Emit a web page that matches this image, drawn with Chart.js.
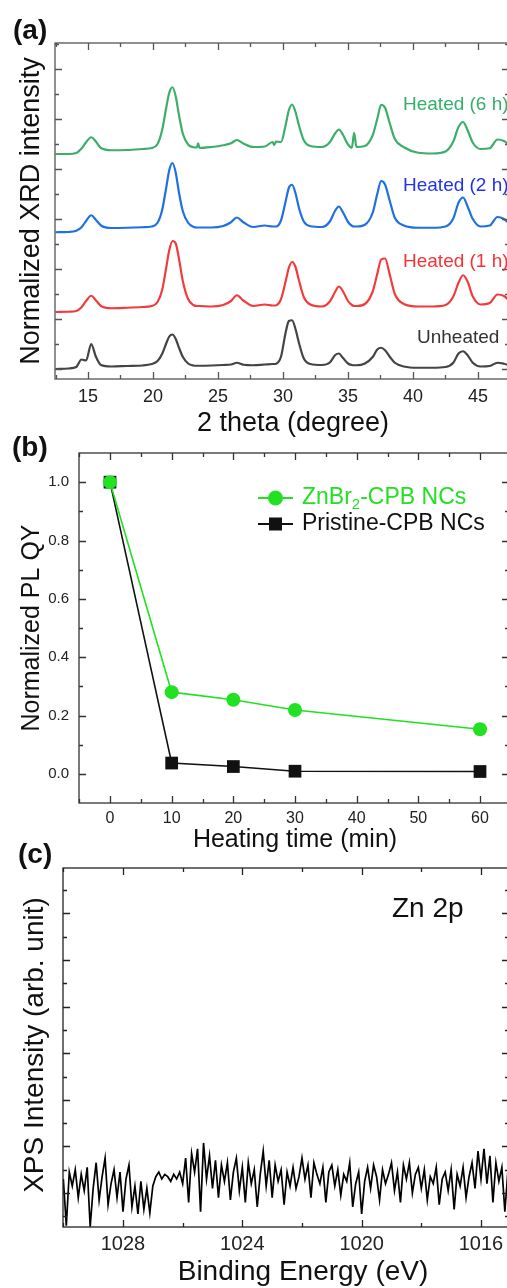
<!DOCTYPE html>
<html><head><meta charset="utf-8">
<script src="https://cdn.jsdelivr.net/npm/chart.js@4.4.1/dist/chart.umd.min.js"></script>
<style>
html,body{margin:0;padding:0;background:#fff;overflow:hidden;width:507px;height:1288px;}
canvas{position:absolute;left:0;top:0;}
</style></head><body>
<canvas id="ca" width="512" height="1288"></canvas>
<canvas id="cb" width="512" height="1288"></canvas>
<canvas id="cc" width="512" height="1288"></canvas>
<script>
// ---------- Panel (a): XRD ----------
const XRD_THETA = [12.5,13.5,14.1,14.5,14.85,15.25,15.6,16.0,16.8,18.0,
  19.2,19.9,20.35,20.7,21.0,21.25,21.5,21.75,22.0,22.3,
  22.7,23.1,23.38,23.47,23.58,24.5,25.4,26.0,26.45,26.95,
  27.7,28.6,29.2,29.33,29.47,29.85,30.2,30.45,30.7,30.95,
  31.25,31.6,32.1,33.0,33.6,34.0,34.3,34.6,35.0,35.3,
  35.47,35.65,36.3,36.9,37.25,37.55,37.85,38.2,38.6,39.3,
  40.4,41.5,42.5,43.1,43.5,43.85,44.2,44.6,45.2,45.9,
  46.5,47.0,47.4];
const XRD_UNHEATED = [0.0,0.02,0.08,0.38,0.34,1.0,0.5,0.16,0.1,0.12,
  0.14,0.2,0.32,0.6,1.0,1.3,1.38,1.2,0.85,0.48,
  0.22,0.14,0.13,0.13,0.13,0.14,0.16,0.18,0.25,0.17,
  0.15,0.18,0.2,0.2,0.21,0.5,1.45,1.92,1.95,1.62,
  1.0,0.42,0.2,0.16,0.26,0.55,0.62,0.45,0.22,0.16,
  0.15,0.15,0.22,0.48,0.78,0.85,0.75,0.5,0.25,0.1,
  0.05,0.05,0.08,0.25,0.62,0.71,0.55,0.25,0.1,0.12,
  0.25,0.21,0.15];
const XRD_HEATED_1H = [2.28,2.29,2.32,2.47,2.72,2.93,2.75,2.52,2.43,2.45,
  2.48,2.52,2.68,3.15,4.0,4.75,5.12,5.02,4.4,3.5,
  2.8,2.56,2.52,2.52,2.52,2.5,2.56,2.72,2.95,2.74,
  2.52,2.58,2.54,2.54,2.55,2.8,3.5,4.05,4.28,4.1,
  3.5,2.88,2.58,2.5,2.7,3.08,3.3,3.12,2.72,2.56,
  2.52,2.52,2.6,3.1,3.8,4.38,4.42,3.8,3.0,2.6,
  2.5,2.5,2.56,2.9,3.45,3.75,3.5,2.9,2.58,2.64,
  2.98,2.92,2.74];
const XRD_HEATED_2H = [5.47,5.48,5.53,5.67,5.92,6.15,5.97,5.74,5.64,5.65,
  5.67,5.7,5.85,6.35,7.2,7.95,8.24,7.85,7.05,6.3,
  5.85,5.69,5.66,5.66,5.66,5.66,5.72,5.87,6.06,5.87,
  5.68,5.74,5.7,5.7,5.7,5.95,6.7,7.25,7.37,7.05,
  6.4,5.9,5.71,5.68,5.9,6.32,6.5,6.28,5.88,5.73,
  5.7,5.7,5.77,6.25,7.0,7.52,7.38,6.75,6.05,5.74,
  5.65,5.65,5.7,6.02,6.65,6.86,6.5,6.0,5.7,5.74,
  6.08,6.0,5.82];
const XRD_HEATED_6H = [8.6,8.6,8.64,8.82,9.07,9.27,9.1,8.84,8.75,8.76,
  8.8,8.84,9.0,9.55,10.4,11.05,11.27,10.9,10.15,9.4,
  8.98,8.87,8.86,9.03,8.84,8.88,8.95,9.03,9.16,9.02,
  8.88,8.9,9.08,8.96,9.1,9.08,9.75,10.35,10.58,10.3,
  9.7,9.15,8.92,8.88,9.07,9.42,9.58,9.38,8.98,8.85,
  9.45,8.88,8.92,9.35,10.0,10.57,10.45,9.85,9.2,8.87,
  8.65,8.62,8.7,9.1,9.68,9.88,9.55,9.05,8.8,8.83,
  9.18,9.12,8.96];
const XRD_SERIES_NAMES = ['Unheated','Heated (1 h)','Heated (2 h)','Heated (6 h)'];
const XRD_X_MAJOR = [15,20,25,30,35,40,45];
const XRD_X_MINOR = [12.5,17.5,22.5,27.5,32.5,37.5,42.5,47.5];
const XRD_Y_MAJOR = [0,2,4,6,8,10,12];
const XRD_Y_MINOR = [1,3,5,7,9,11,13];

// ---------- Panel (b): PL QY ----------
const PL_TIME = [0,10,20,30,60];
const PL_ZNBR2 = [1.0,0.28,0.254,0.219,0.153];
const PL_PRISTINE = [1.0,0.037,0.025,0.009,0.008];
const PL_X_MAJOR = [0,10,20,30,40,50,60];
const PL_X_MINOR = [-5,5,15,25,35,45,55];
const PL_Y_MAJOR = [0,0.2,0.4,0.6,0.8,1.0];
const PL_Y_MINOR = [-0.1,0.1,0.3,0.5,0.7,0.9,1.1];

// ---------- Panel (c): XPS Zn 2p ----------
const XPS_START_EV = 1030.0;
const XPS_STEP_EV = 0.1;
const XPS_COUNTS = [0.6,-1.4,0.9,0.3,1.0,-0.2,0.8,0.1,1.1,-1.45,
  0.2,1.3,-0.3,0.7,1.5,-0.5,0.4,1.0,-0.2,0.9,
  -0.8,0.6,1.2,-0.6,0.3,-0.9,0.5,-0.7,0.2,-0.85,
  0.3,0.7,0.9,0.6,0.8,0.7,0.5,0.8,0.6,0.9,
  0.4,1.5,-0.4,1.7,0.9,1.9,-0.8,2.15,0.6,1.6,
  0.2,1.4,-0.2,1.2,0.5,1.3,-0.3,0.9,1.5,0.1,
  1.1,-0.4,1.3,0.4,1.0,-0.6,0.8,1.8,0.3,1.4,
  -0.2,1.2,0.5,1.0,-0.5,0.9,0.3,1.1,0.2,0.7,
  1.5,0.6,1.2,-0.2,1.3,0.8,0.4,1.1,-0.4,0.9,
  1.2,0.3,1.0,-0.1,0.8,0.5,1.3,-0.6,0.4,0.9,
  -0.9,0.5,1.1,0.2,1.2,0.7,-0.3,1.0,0.4,0.8,
  1.3,0.1,0.9,-0.4,1.2,0.6,1.3,0.0,0.8,1.1,
  0.2,1.0,-0.3,0.7,0.4,1.1,-0.5,0.6,0.9,0.1,
  1.0,-0.7,0.8,0.3,1.1,-0.2,0.7,1.3,0.2,1.8,
  0.6,1.9,0.4,1.6,-0.4,1.3,0.5,1.1,-0.8,0.9];
const XPS_X_MAJOR = [1016,1020,1024,1028];
const XPS_X_MINOR = [1018,1022,1026,1030];
const XPS_Y_MAJOR = [0,2,4,6,8,10,12];
const XPS_Y_MINOR = [-1,1,3,5,7,9,11,13];

// ---------- helpers ----------
const FONT = "'Liberation Sans', Arial, Helvetica, sans-serif";
Chart.defaults.font.family = FONT;

function framePlugin(cfg) {
  return {
    id: 'frame_' + cfg.name,
    afterDatasetsDraw(chart) {
      const {ctx, chartArea: a, scales: {x, y}} = chart;
      ctx.save();
      ctx.strokeStyle = cfg.color; ctx.lineWidth = cfg.width;
      ctx.strokeRect(a.left, a.top, a.right - a.left, a.bottom - a.top);
      const xl = Math.min(x.min, x.max), xh = Math.max(x.min, x.max);
      const yl = Math.min(y.min, y.max), yh = Math.max(y.min, y.max);
      ctx.beginPath();
      const tx = (vals, len) => vals.filter(v => v > xl && v < xh).forEach(v => {
        const p = Math.round(x.getPixelForValue(v)) + 0.5;
        ctx.moveTo(p, a.bottom); ctx.lineTo(p, a.bottom - len);
        ctx.moveTo(p, a.top); ctx.lineTo(p, a.top + len);
      });
      const ty = (vals, len) => vals.filter(v => v > yl && v < yh).forEach(v => {
        const p = Math.round(y.getPixelForValue(v)) + 0.5;
        ctx.moveTo(a.left, p); ctx.lineTo(a.left + len, p);
        ctx.moveTo(a.right, p); ctx.lineTo(a.right - len, p);
      });
      tx(cfg.xMajor, 7); tx(cfg.xMinor, 4);
      ty(cfg.yMajor, 7); ty(cfg.yMinor, 4);
      ctx.stroke();
      ctx.restore();
    }
  };
}
function textPlugin(name, items) {
  return {
    id: 'text_' + name,
    afterDraw(chart) {
      const ctx = chart.ctx;
      items.forEach(it => {
        ctx.save();
        ctx.font = it.font + ' ' + FONT;
        ctx.fillStyle = it.color || '#111';
        ctx.textAlign = it.align || 'left';
        ctx.textBaseline = it.base || 'middle';
        ctx.translate(it.x, it.y);
        if (it.rot) ctx.rotate(it.rot);
        ctx.fillText(it.t, 0, 0);
        ctx.restore();
      });
      if (items.after) items.after(ctx);
    }
  };
}
function baseOptions(o) {
  return {
    responsive: false, animation: false, devicePixelRatio: 1, events: [],
    layout: {autoPadding: false, padding: {left: 0, top: o.top, right: 3, bottom: 0}},
    plugins: {legend: {display: false}, tooltip: {enabled: false}, title: {display: false}},
    scales: {
      x: {
        type: 'linear', min: o.xmin, max: o.xmax, reverse: !!o.reverse,
        grid: {display: false, drawTicks: false}, border: {display: false},
        title: {display: false},
        ticks: {display: true, autoSkip: false, maxRotation: 0,
          padding: o.xpad, color: '#222', font: {size: o.xfont, lineHeight: 1},
          callback: o.xcb || (v => String(v))},
        afterBuildTicks: s => { s.ticks = o.xticks.map(v => ({value: v})); },
        afterFit: s => { s.height = 1288 - o.bottom; }
      },
      y: {
        type: 'linear', min: o.ymin, max: o.ymax,
        grid: {display: false, drawTicks: false}, border: {display: false},
        title: {display: false},
        ticks: {display: !!o.ylabels, autoSkip: false,
          padding: o.ypad || 0, color: '#222', font: {size: o.yfont || 12, lineHeight: 1},
          callback: o.ycb || (v => String(v))},
        afterBuildTicks: s => { s.ticks = o.yticks.map(v => ({value: v})); },
        afterFit: s => { s.width = o.left; }
      }
    }
  };
}
const pts = (xs, ys) => xs.map((x, i) => ({x: x, y: ys[i]}));

// ---------- Chart (a) ----------
const xrdColors = ['#444444', '#f03c3c', '#1f70e0', '#3cae6a'];
const xrdData = [XRD_UNHEATED, XRD_HEATED_1H, XRD_HEATED_2H, XRD_HEATED_6H];
const optA = baseOptions({top: 43, bottom: 379, left: 55, xmin: 12.4615, xmax: 47.385, xticks: XRD_X_MAJOR,
  xpad: 9, xfont: 18, ymin: -0.4, ymax: 13.04, yticks: XRD_Y_MAJOR, ylabels: false});
new Chart(document.getElementById('ca'), {
  type: 'line',
  data: {datasets: xrdData.map((d, i) => ({
    label: XRD_SERIES_NAMES[i], data: pts(XRD_THETA, d), borderColor: xrdColors[i],
    borderWidth: 2.2, pointRadius: 0, cubicInterpolationMode: 'monotone', fill: false}))},
  options: optA,
  plugins: [
    framePlugin({name: 'a', color: '#555', width: 1.3, xMajor: XRD_X_MAJOR, xMinor: XRD_X_MINOR, yMajor: XRD_Y_MAJOR, yMinor: XRD_Y_MINOR}),
    textPlugin('a', [
      {t: '(a)', x: 13, y: 31, font: 'bold 28px', color: '#111'},
      {t: 'Normalized XRD intensity', x: 32, y: 211, font: '27px', align: 'center', rot: -Math.PI / 2},
      {t: '2 theta (degree)', x: 293, y: 424, font: '27px', align: 'center'},
      {t: 'Heated (6 h)', x: 403, y: 110, font: '19px', base: 'alphabetic', color: '#33b06a'},
      {t: 'Heated (2 h)', x: 403, y: 191, font: '19px', base: 'alphabetic', color: '#2233ee'},
      {t: 'Heated (1 h)', x: 403, y: 267, font: '19px', base: 'alphabetic', color: '#f43434'},
      {t: 'Unheated', x: 417, y: 343, font: '19px', base: 'alphabetic', color: '#333'}
    ])
  ]
});

// ---------- Chart (b) ----------
const GREEN_B = '#22e022';
const optB = baseOptions({top: 453, bottom: 803, left: 79, xmin: -5.027, xmax: 64.7, xticks: PL_X_MAJOR,
  xpad: 8, xfont: 16, ymin: -0.1, ymax: 1.1, yticks: PL_Y_MAJOR, ylabels: true, ypad: 10, yfont: 15,
  ycb: v => v.toFixed(1)});
const legendB = [
  {t: 'Normalized PL QY', x: 32, y: 628, font: '25px', align: 'center', rot: -Math.PI / 2},
  {t: 'Heating time (min)', x: 295, y: 840, font: '25px', align: 'center'},
  {t: '(b)', x: 12, y: 448, font: 'bold 28px', color: '#111'},
  {t: 'Pristine-CPB NCs', x: 302, y: 524, font: '23px', color: '#111'}
];
legendB.after = function (ctx) {
  ctx.save();
  ctx.strokeStyle = GREEN_B; ctx.lineWidth = 2;
  ctx.beginPath(); ctx.moveTo(258, 498); ctx.lineTo(293, 498); ctx.stroke();
  ctx.fillStyle = GREEN_B; ctx.beginPath(); ctx.arc(275.5, 498, 7.5, 0, Math.PI * 2); ctx.fill();
  ctx.textBaseline = 'middle'; ctx.textAlign = 'left';
  let x0 = 302;
  ctx.font = '23px ' + FONT; ctx.fillText('ZnBr', x0, 498); x0 += ctx.measureText('ZnBr').width;
  ctx.font = '15px ' + FONT; ctx.fillText('2', x0, 505); x0 += ctx.measureText('2').width;
  ctx.font = '23px ' + FONT; ctx.fillText('-CPB NCs', x0, 498);
  ctx.strokeStyle = '#111'; ctx.lineWidth = 2;
  ctx.beginPath(); ctx.moveTo(258, 524); ctx.lineTo(293, 524); ctx.stroke();
  ctx.fillStyle = '#111'; ctx.fillRect(269, 517.5, 13, 13);
  ctx.restore();
};
new Chart(document.getElementById('cb'), {
  type: 'line',
  data: {datasets: [
    {label: 'ZnBr2-CPB NCs', data: pts(PL_TIME, PL_ZNBR2), borderColor: GREEN_B, backgroundColor: GREEN_B,
      borderWidth: 1.6, pointStyle: 'circle', pointRadius: 7, pointBorderWidth: 0, tension: 0},
    {label: 'Pristine-CPB NCs', data: pts(PL_TIME, PL_PRISTINE), borderColor: '#111', backgroundColor: '#111',
      borderWidth: 1.6, pointStyle: 'rect', pointRadius: 9, pointBorderWidth: 0, tension: 0}
  ]},
  options: optB,
  plugins: [
    framePlugin({name: 'b', color: '#333', width: 1.3, xMajor: PL_X_MAJOR, xMinor: PL_X_MINOR, yMajor: PL_Y_MAJOR, yMinor: PL_Y_MINOR}),
    textPlugin('b', legendB)
  ]
});

// ---------- Chart (c) ----------
const xpsEnergy = XPS_COUNTS.map((_, i) => XPS_START_EV - i * XPS_STEP_EV);
const optC = baseOptions({top: 868, bottom: 1227, left: 63, xmin: 1015.061, xmax: 1030.011, xticks: XPS_X_MAJOR, reverse: true,
  xpad: 7, xfont: 20, ymin: -1.459, ymax: 13.95, yticks: XPS_Y_MAJOR, ylabels: false});
new Chart(document.getElementById('cc'), {
  type: 'line',
  data: {datasets: [
    {label: 'Zn 2p', data: pts(xpsEnergy, XPS_COUNTS), borderColor: '#000', borderWidth: 1.7,
      pointRadius: 0, tension: 0}
  ]},
  options: optC,
  plugins: [
    framePlugin({name: 'c', color: '#222', width: 1.3, xMajor: XPS_X_MAJOR, xMinor: XPS_X_MINOR, yMajor: XPS_Y_MAJOR, yMinor: XPS_Y_MINOR}),
    textPlugin('c', [
      {t: '(c)', x: 18, y: 855, font: 'bold 28px', color: '#111'},
      {t: 'XPS Intensity (arb. unit)', x: 35, y: 1045, font: '28px', align: 'center', rot: -Math.PI / 2},
      {t: 'Binding Energy (eV)', x: 303, y: 1272, font: '28px', align: 'center'},
      {t: 'Zn 2p', x: 392, y: 917, font: '28px', base: 'alphabetic', color: '#111'}
    ])
  ]
});
</script>
</body></html>
